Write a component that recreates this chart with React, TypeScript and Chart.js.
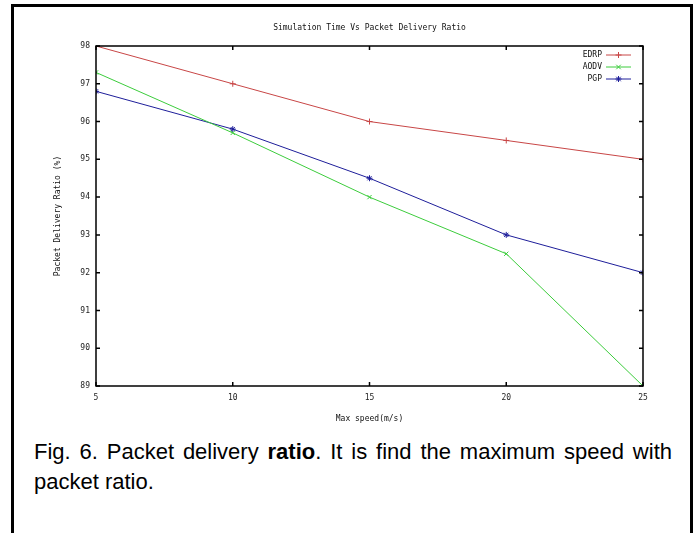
import React, { useEffect, useRef } from "react";
import { Chart, registerables } from "chart.js";

Chart.register(...registerables);

// ---- data ----
const speeds = [5, 10, 15, 20, 25];
const edrpValues = [98, 97, 96, 95.5, 95];
const aodvValues = [97.3, 95.7, 94, 92.5, 89];
const pgpValues = [96.8, 95.8, 94.5, 93, 92];
const seriesNames = ["EDRP", "AODV", "PGP"];
const seriesColors = ["#c84646", "#3ccc3c", "#1e1e9a"];
const seriesMarkers = ["cross", "crossRot", "star"];
const xTickValues = [5, 10, 15, 20, 25];
const yTickValues = [89, 90, 91, 92, 93, 94, 95, 96, 97, 98];
const chartTitle = "Simulation Time Vs Packet Delivery Ratio";
const xAxisTitle = "Max speed(m/s)";
const yAxisTitle = "Packet Delivery Ratio (%)";

const FONT = "'DejaVu Sans Mono', 'Liberation Mono', monospace";

const gnuplotDecor = {
  id: "gnuplotDecor",
  afterDatasetsDraw(chart: any) {
    const { ctx, chartArea } = chart;
    const { left, right, top, bottom } = chartArea;
    const xs = chart.scales.x;
    const ys = chart.scales.y;
    ctx.save();
    // frame
    ctx.strokeStyle = "#000";
    ctx.lineWidth = 1.5;
    ctx.strokeRect(left, top, right - left, bottom - top);
    // inward ticks
    const tl = 4;
    ctx.beginPath();
    yTickValues.forEach((v) => {
      const y = ys.getPixelForValue(v);
      ctx.moveTo(left, y);
      ctx.lineTo(left + tl, y);
      ctx.moveTo(right, y);
      ctx.lineTo(right - tl, y);
    });
    xTickValues.forEach((v) => {
      const x = xs.getPixelForValue(v);
      ctx.moveTo(x, bottom);
      ctx.lineTo(x, bottom - tl);
      ctx.moveTo(x, top);
      ctx.lineTo(x, top + tl);
    });
    ctx.stroke();

    // title
    ctx.fillStyle = "#111";
    ctx.font = `8px ${FONT}`;
    ctx.textAlign = "center";
    ctx.textBaseline = "middle";
    ctx.fillText(chartTitle, (left + right) / 2, 28);
    // x title
    ctx.fillText(xAxisTitle, (left + right) / 2, 419);
    // y title
    ctx.save();
    ctx.translate(58, (top + bottom) / 2);
    ctx.rotate(-Math.PI / 2);
    ctx.fillText(yAxisTitle, 0, 0);
    ctx.restore();

    // legend
    const lx1 = right - 37;
    const lx2 = right - 12;
    chart.data.datasets.forEach((ds: any, i: number) => {
      const y = top + 9 + i * 12;
      ctx.fillStyle = "#111";
      ctx.textAlign = "right";
      ctx.fillText(ds.label, lx1 - 4, y);
      ctx.strokeStyle = ds.borderColor;
      ctx.lineWidth = 1;
      ctx.beginPath();
      ctx.moveTo(lx1, y);
      ctx.lineTo(lx2, y);
      ctx.stroke();
      const cx = (lx1 + lx2) / 2;
      ctx.beginPath();
      const r = 3;
      if (ds.pointStyle === "cross" || ds.pointStyle === "star") {
        ctx.moveTo(cx, y - r);
        ctx.lineTo(cx, y + r);
        ctx.moveTo(cx - r, y);
        ctx.lineTo(cx + r, y);
      }
      if (ds.pointStyle === "crossRot" || ds.pointStyle === "star") {
        const d = r * 0.75;
        ctx.moveTo(cx - d, y - d);
        ctx.lineTo(cx + d, y + d);
        ctx.moveTo(cx - d, y + d);
        ctx.lineTo(cx + d, y - d);
      }
      ctx.stroke();
    });
    ctx.restore();
  },
};

export default function App() {
  const ref = useRef<HTMLCanvasElement | null>(null);

  useEffect(() => {
    if (!ref.current) return;
    const seriesValues = [edrpValues, aodvValues, pgpValues];
    const chart = new Chart(ref.current, {
      type: "line",
      data: {
        datasets: seriesValues.map((vals, i) => ({
          label: seriesNames[i],
          data: speeds.map((s, j) => ({ x: s, y: vals[j] })),
          borderColor: seriesColors[i],
          backgroundColor: seriesColors[i],
          borderWidth: 1,
          pointStyle: seriesMarkers[i] as any,
          pointRadius: 3,
          pointBorderWidth: 1,
          tension: 0,
          fill: false,
        })),
      },
      options: {
        responsive: false,
        animation: false,
        devicePixelRatio: 1,
        layout: { padding: { left: 0, right: 56, top: 46, bottom: 0 } },
        plugins: {
          legend: { display: false },
          title: { display: false },
          tooltip: { enabled: false },
        },
        scales: {
          x: {
            type: "linear",
            min: 5,
            max: 25,
            afterBuildTicks: (s: any) => {
              s.ticks = xTickValues.map((v) => ({ value: v }));
            },
            afterFit: (s: any) => {
              s.height = 44;
            },
            grid: { display: false, drawTicks: false },
            border: { display: false },
            ticks: {
              padding: 7,
              color: "#222",
              font: { family: FONT, size: 8 },
              maxRotation: 0,
            },
          },
          y: {
            type: "linear",
            min: 89,
            max: 98,
            afterBuildTicks: (s: any) => {
              s.ticks = yTickValues.map((v) => ({ value: v }));
            },
            afterFit: (s: any) => {
              s.width = 96;
            },
            grid: { display: false, drawTicks: false },
            border: { display: false },
            ticks: {
              padding: 6,
              color: "#222",
              font: { family: FONT, size: 8 },
            },
          },
        },
      },
      plugins: [gnuplotDecor],
    });
    return () => chart.destroy();
  }, []);

  return (
    <div
      style={{
        position: "absolute",
        left: 0,
        top: 0,
        width: 699,
        height: 533,
        background: "#fff",
        overflow: "hidden",
      }}
    >
      <div
        style={{
          position: "absolute",
          left: 11,
          top: 4,
          width: 676,
          height: 560,
          border: "3px solid #000",
        }}
      />
      <canvas
        ref={ref}
        width={699}
        height={430}
        style={{ position: "absolute", left: 0, top: 0, width: 699, height: 430 }}
      />
      <div
        style={{
          position: "absolute",
          left: 34,
          top: 437,
          width: 638,
          fontFamily: "Arial, 'Liberation Sans', sans-serif",
          fontSize: 22,
          lineHeight: "30px",
          textAlign: "justify",
          color: "#000",
        }}
      >
        Fig. 6. Packet delivery <b>ratio</b>. It is find the maximum speed with
        packet ratio.
      </div>
    </div>
  );
}
